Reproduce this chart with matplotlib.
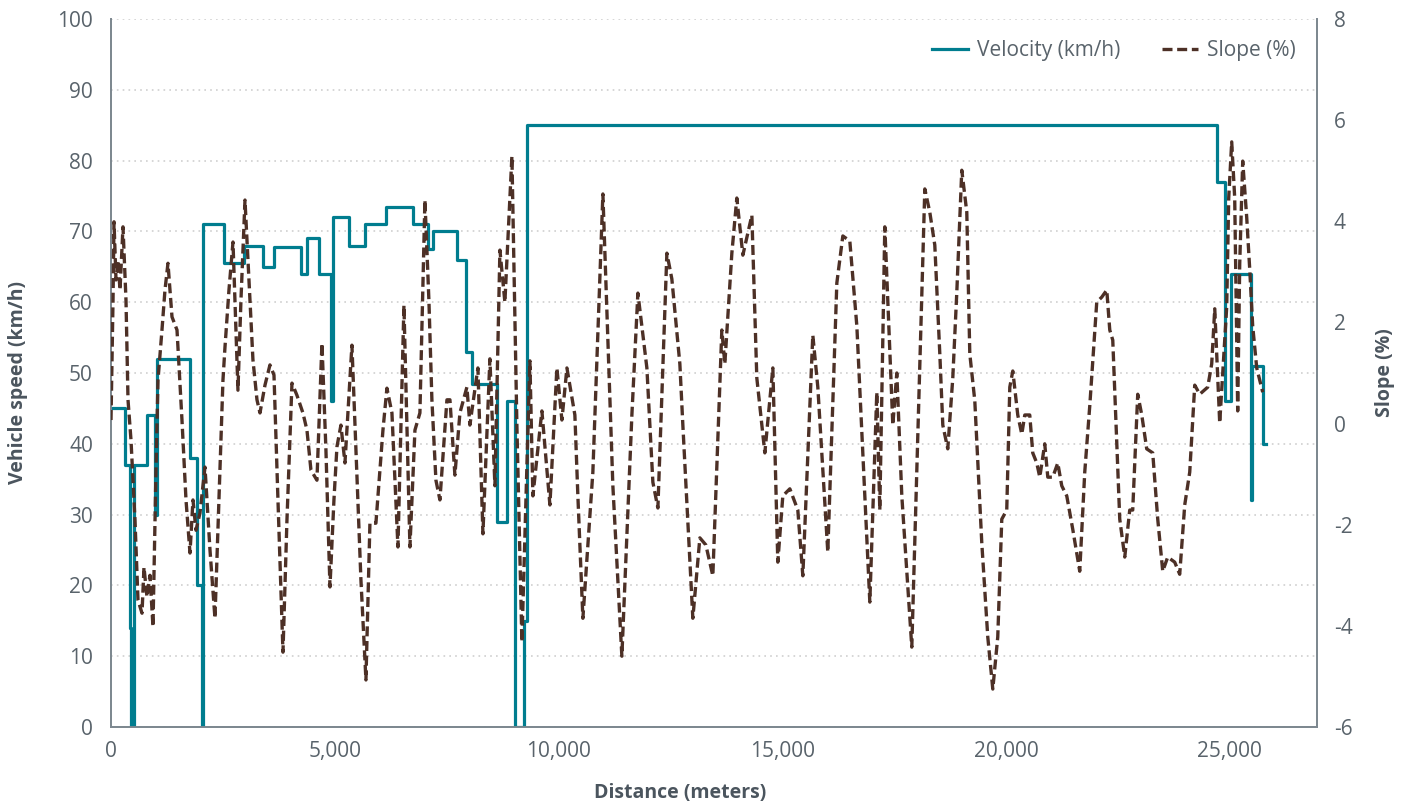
import matplotlib
matplotlib.use("Agg")
import matplotlib.pyplot as plt
from matplotlib.ticker import FuncFormatter

# colours
TEAL = "#007d8f"
BROWN = "#4d3026"
TEXT = "#59636b"
LABEL = "#4b555e"
SPINE = "#7d8890"

# velocity profile (step changes), distance in meters
vel_dist = [0, 313, 425, 458, 503, 804, 983, 1028, 1765, 1921,
            2033, 2067, 2525, 2971, 3407, 3642, 4245, 4379, 4647, 4926,
            4960, 5317, 5675, 6144, 6747, 7082, 7194, 7730, 7931, 8065,
            8624, 8858, 9037, 9227, 9305, 24709, 24899, 25022, 25469, 25503,
            25737, 25804]
vel_kmh = [45, 37, 14, 0, 37, 44, 30, 52, 38, 20,
           0, 71, 65.5, 68, 65, 67.8, 64, 69, 64, 46,
           72, 68, 71, 73.5, 71, 67.5, 70, 66, 53, 48.5,
           29, 46, 0, 15, 85, 77, 46, 64, 32, 51,
           40, 40]

# road slope, distance in meters
slope_dist = [0, 45, 67, 112, 156, 201, 268, 335, 380, 447,
              536, 603, 693, 737, 804, 871, 938, 1005, 1050, 1139,
              1206, 1273, 1363, 1475, 1586, 1676, 1765, 1832, 1899, 1988,
              2100, 2212, 2323, 2413, 2502, 2547, 2636, 2726, 2793, 2837,
              2904, 2994, 3083, 3172, 3262, 3329, 3441, 3552, 3642, 3731,
              3843, 3932, 4044, 4155, 4289, 4379, 4468, 4602, 4714, 4803,
              4893, 4982, 5049, 5138, 5228, 5384, 5474, 5585, 5697, 5786,
              5920, 6077, 6166, 6278, 6412, 6546, 6680, 6792, 6903, 7015,
              7104, 7171, 7261, 7350, 7507,
              7574, 7685, 7797, 7953, 8020, 8199, 8311, 8467, 8579, 8691,
              8802, 8959, 9070, 9182, 9361, 9428, 9629, 9808, 9964, 10076,
              10188, 10366, 10433, 10545, 10768, 10992, 11215, 11416, 11640, 11774,
              11975, 12109, 12221, 12422, 12533, 12712, 12779, 13002, 13159, 13293,
              13449, 13650, 13717, 13874, 13985, 14120, 14321, 14432, 14544, 14611,
              14790, 14901, 15013, 15170, 15348, 15460, 15683, 15795, 16018, 16220,
              16354, 16510, 16667, 16957, 17113, 17180, 17292, 17471, 17560, 17672,
              17895, 18007, 18186, 18297, 18409, 18521, 18588, 18699, 18811, 18900,
              19012, 19124, 19191, 19303, 19459, 19593, 19705, 19816, 19906, 20017,
              20085, 20152, 20263, 20353, 20420, 20531, 20598, 20688, 20755, 20866,
              20934, 21045, 21157, 21246, 21358, 21492, 21648, 21760, 21872, 22028,
              22140, 22252, 22319, 22386, 22542, 22654, 22765, 22832, 22944, 23034,
              23145, 23279, 23391, 23503, 23614, 23770, 23882, 23994, 24106, 24218,
              24329, 24508, 24597, 24665, 24731, 24776, 24843, 24932, 24977, 25044,
              25111, 25178, 25223, 25290, 25379, 25446, 25513, 25603, 25737]
slope_pct = [0.07, 2.44, 3.99, 2.84, 3.23, 2.64, 3.89, 2.44, 0.47, -0.33,
             -1.91, -3.49, -3.75, -2.84, -3.43, -3.0, -4.02, -0.92, 0.86, 1.85,
             2.64, 3.17, 2.11, 1.85, 0.07, -1.51, -2.56, -1.51, -2.11, -1.77,
             -0.86, -2.50, -3.85, -1.51, 0.86, 1.51, 2.64, 3.59, 1.85, 0.66,
             2.44, 4.42, 2.84, 1.26, 0.47, 0.21, 0.76, 1.16, 0.96, -1.51,
             -4.52, -1.91, 0.80, 0.56, 0.21, -0.13, -0.92, -1.12, 1.59, -0.52,
             -3.23, -1.51, -0.46, -0.03, -0.78, 1.55, -0.52, -3.09, -5.07, -1.97,
             -1.97, -0.13, 0.70, 0.21, -2.44, 2.34, -2.44, -0.13, 0.21, 4.42,
             2.44, 0.47, -1.12, -1.51, 0.47,
             0.47, -1.02, 0.21, 0.72, -0.03, 1.10, -2.18, 1.28, -1.23, 3.43,
             2.40, 5.29, -0.03, -4.32, 1.24, -1.43, 0.25, -1.61, 1.10, 0.07,
             1.10, 0.17, -1.43, -3.85, -0.96, 4.54, -1.23, -4.60, 0.17, 2.58,
             1.10, -1.16, -1.67, 3.37, 2.86, 1.18, -0.03, -3.85, -2.26, -2.40,
             -3.01, 1.85, 1.18, 3.37, 4.46, 3.33, 4.12, 0.90, -0.03, -0.58,
             1.10, -2.74, -1.43, -1.29, -1.71, -3.01, 1.75, 0.72, -2.54, 2.78,
             3.71, 3.61, 1.93, -3.53, 0.62, -1.71, 3.89, -0.03, 1.0, -1.43,
             -4.42, -0.96, 4.64, 4.18, 3.53, 1.38, -0.03, -0.50, 0.90, 2.58,
             5.01, 4.18, 1.38, 0.45, -2.36, -4.22, -5.25, -4.22, -1.89, -1.71,
             0.72, 1.04, 0.17, -0.21, 0.17, 0.17, -0.58, -0.78, -1.06, -0.40,
             -1.06, -1.06, -0.78, -1.23, -1.43, -2.09, -2.92, -0.96, 0.35, 2.40,
             2.50, 2.64, 1.85, 1.65, -1.89, -2.64, -1.71, -1.71, 0.58, 0.17,
             -0.50, -0.58, -1.89, -2.92, -2.64, -2.74, -2.98, -1.61, -0.96, 0.76,
             0.58, 0.72, 1.18, 2.27, 0.90, 0.01, 1.0, 2.30, 4.46, 5.57,
             4.46, 0.25, 3.16, 5.19, 4.08, 3.06, 1.93, 1.10, 0.62]

x_ticks = [0, 5000, 10000, 15000, 20000, 25000]
speed_ticks = list(range(0, 101, 10))
slope_ticks = list(range(-6, 9, 2))

plt.rcParams['font.family'] = ['Open Sans', 'DejaVu Sans']
plt.rcParams['axes.unicode_minus'] = False

fig = plt.figure(figsize=(14.11, 8.07), dpi=100)
ax = fig.add_axes([111 / 1411, 80 / 807, 1206 / 1411, 708 / 807])
ax2 = ax.twinx()

ax.step(vel_dist, vel_kmh, where='post', color=TEAL, lw=2.3,
        label='Velocity (km/h)', zorder=3)
ax2.plot(slope_dist, slope_pct, color=BROWN, lw=2.4, ls=(0, (3, 1.4)),
         label='Slope (%)', zorder=3)

ax.set_xlim(0, 26950)
ax.set_ylim(0, 100)
ax2.set_ylim(-6, 8)
ax.set_xticks(x_ticks)
ax.set_yticks(speed_ticks)
ax2.set_yticks(slope_ticks)
ax.xaxis.set_major_formatter(FuncFormatter(lambda v, p: f"{int(v):,}"))

ax.yaxis.grid(True, ls=(0, (1, 2.5)), color='#cfcfcf', lw=1.2)
ax.set_axisbelow(True)

for a in (ax, ax2):
    a.spines['top'].set_visible(False)
    for s in ('left', 'right', 'bottom'):
        a.spines[s].set_color(SPINE)
        a.spines[s].set_linewidth(1.3)
    a.tick_params(length=0, labelsize=15, colors=TEXT)
ax.tick_params(axis='y', pad=13)
ax.tick_params(axis='x', pad=10)
ax2.tick_params(axis='y', pad=12)

fig.text(18 / 1411, 1 - 382 / 807, 'Vehicle speed (km/h)', rotation=90,
         ha='center', va='center', fontsize=14, fontweight='bold', color=LABEL)
fig.text(1385 / 1411, 1 - 373 / 807, 'Slope (%)', rotation=90,
         ha='center', va='center', fontsize=14, fontweight='bold', color=LABEL)
fig.text(680 / 1411, 1 - 793 / 807, 'Distance (meters)',
         ha='center', va='center', fontsize=14, fontweight='bold', color=LABEL)

h1, l1 = ax.get_legend_handles_labels()
h2, l2 = ax2.get_legend_handles_labels()
leg = ax2.legend(h1 + h2, l1 + l2, loc='upper right', bbox_to_anchor=(0.982, 0.97),
                 ncol=2, frameon=False, fontsize=15, handlelength=1.75,
                 columnspacing=2.0, handletextpad=0.4, borderpad=0,
                 borderaxespad=0)
for t in leg.get_texts():
    t.set_color(TEXT)

fig.savefig('out.png', dpi=100)
